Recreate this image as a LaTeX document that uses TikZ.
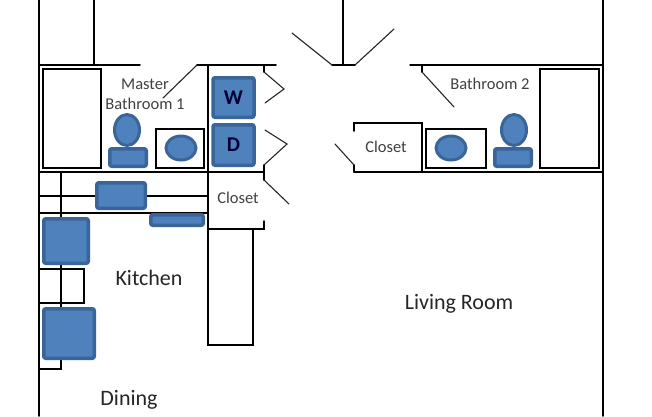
\documentclass[tikz,border=0pt]{standalone}
\usepackage{fontspec}
\setmainfont{Carlito}
\definecolor{bluefill}{HTML}{4F81BD}
\definecolor{blueedge}{HTML}{3A6599}
\definecolor{smalltext}{HTML}{404040}
\tikzset{
  wall/.style={line width=1.5pt,black,line cap=round,line join=miter},
  door/.style={line width=1.1pt,black!85,line cap=round},
  fixture/.style={draw=blueedge,fill=bluefill,line width=3.5pt,rounded corners=2pt},
  bowl/.style={draw=blueedge,fill=bluefill,line width=3pt},
  smalllabel/.style={font=\fontsize{16.5}{19}\selectfont,text=smalltext,inner sep=0pt,align=center},
  biglabel/.style={font=\fontsize{22}{26}\selectfont,text=black!85,inner sep=0pt},
  applabel/.style={font=\fontsize{21}{24}\selectfont\bfseries,text=black!80!blue},
  boxline/.style={line width=1.5pt,black}
}
\begin{document}
\begin{tikzpicture}[x=1pt,y=-1pt]
\useasboundingbox (0,0) rectangle (652,416);
\fill[white] (0,0) rectangle (652,416);
% outer walls
\draw[wall] (39,0) -- (39,416);
\draw[wall] (603,0) -- (603,416);
\draw[wall] (94,0) -- (94,65);
\draw[line width=2.6pt] (94,0) -- (94,30);
\draw[wall] (343,0) -- (343,65);
\draw[wall] (39,65) -- (140,65);
\draw[wall] (197,65) -- (276,65);
\draw[wall] (332,65) -- (355,65);
\draw[wall] (410,65) -- (603,65);
\draw[wall] (39,172) -- (264,172);
\draw[wall] (354,172) -- (603,172);
\draw[wall] (208,65) -- (208,229);
% doors
\draw[door] (292,33) -- (332,65);
\draw[door] (355,65) -- (394,29);
\draw[door] (197,65) -- (163,98);
\draw[wall] (264,65) -- (264,72);
\draw[door] (264,72) -- (284,89) -- (265,103);
\draw[door] (265,130) -- (287,144) -- (264,165);
\draw[wall] (264,165) -- (264,180);
\draw[door] (264,180) -- (289,204);
\draw[wall] (264,221) -- (264,229) -- (208,229);
\draw[wall] (422,65) -- (422,72);
\draw[door] (422,72) -- (454,107);
\draw[wall] (354,131) -- (354,123) -- (422,123) -- (422,172);
\draw[door] (335,144) -- (354,165);
\draw[wall] (354,165) -- (354,172);
% tubs and sink boxes
\node[draw,boxline,minimum width=58pt,minimum height=99pt,inner sep=0pt] (tubA) at (72,118.5) {};
\node[draw,boxline,minimum width=59pt,minimum height=99pt,inner sep=0pt] (tubB) at (569.5,118.5) {};
\node[draw,boxline,minimum width=48pt,minimum height=39pt,inner sep=0pt] (sinkA) at (180,148.5) {};
\node[draw,boxline,minimum width=60pt,minimum height=39pt,inner sep=0pt] (sinkB) at (456,148.5) {};
\node[draw,boxline,minimum width=45pt,minimum height=116pt,inner sep=0pt] (island) at (230.5,287) {};
% kitchen lines
\draw[wall] (39,196) -- (208,196);
\draw[wall] (39,213) -- (208,213);
\draw[wall] (61,172) -- (61,217);
\draw[wall] (61,265) -- (61,307);
\draw[wall] (39,269) -- (84,269) -- (84,303) -- (39,303);
\draw[wall] (61,360) -- (61,369) -- (39,369);
% fixtures
\draw[bowl] (127,130) ellipse (12.5pt and 15.5pt);
\node[fixture,minimum width=36.5pt,minimum height=17.5pt,inner sep=0pt] (toiletA) at (128,157.5) {};
\draw[bowl] (514,130) ellipse (12.5pt and 15.5pt);
\node[fixture,minimum width=36.5pt,minimum height=17.5pt,inner sep=0pt] (toiletB) at (513,157.5) {};
\draw[bowl] (181,148) ellipse (15pt and 12pt);
\draw[bowl] (451,148) ellipse (15pt and 12pt);
\node[fixture,applabel,minimum width=41pt,minimum height=39.5pt,inner sep=0pt] (washer) at (233.5,97.5) {W};
\node[fixture,applabel,minimum width=41pt,minimum height=40.5pt,inner sep=0pt] (dryer) at (233.5,145) {D};
\node[fixture,minimum width=48.5pt,minimum height=25.5pt,inner sep=0pt] (counterA) at (121,195.5) {};
\node[fixture,minimum width=52.5pt,minimum height=10.5pt,inner sep=0pt] (counterB) at (177,220) {};
\node[fixture,minimum width=44.5pt,minimum height=44.5pt,inner sep=0pt] (stove) at (66,241) {};
\node[fixture,minimum width=50.5pt,minimum height=49.5pt,inner sep=0pt] (fridge) at (69,333.5) {};
% labels
\node[smalllabel] (lblMaster) at (145,84) {Master};
\node[smalllabel] (lblBathA) at (145,104) {Bathroom 1};
\node[smalllabel] (lblBathB) at (490,84) {Bathroom 2};
\node[smalllabel] (lblClosetA) at (238,198) {Closet};
\node[smalllabel] (lblClosetB) at (386,147) {Closet};
\node[biglabel] (lblKitchen) at (149,278) {Kitchen};
\node[biglabel] (lblLiving) at (459,304) {Living Room};
\node[biglabel] (lblDining) at (129,400) {Dining};
\end{tikzpicture}
\end{document}
